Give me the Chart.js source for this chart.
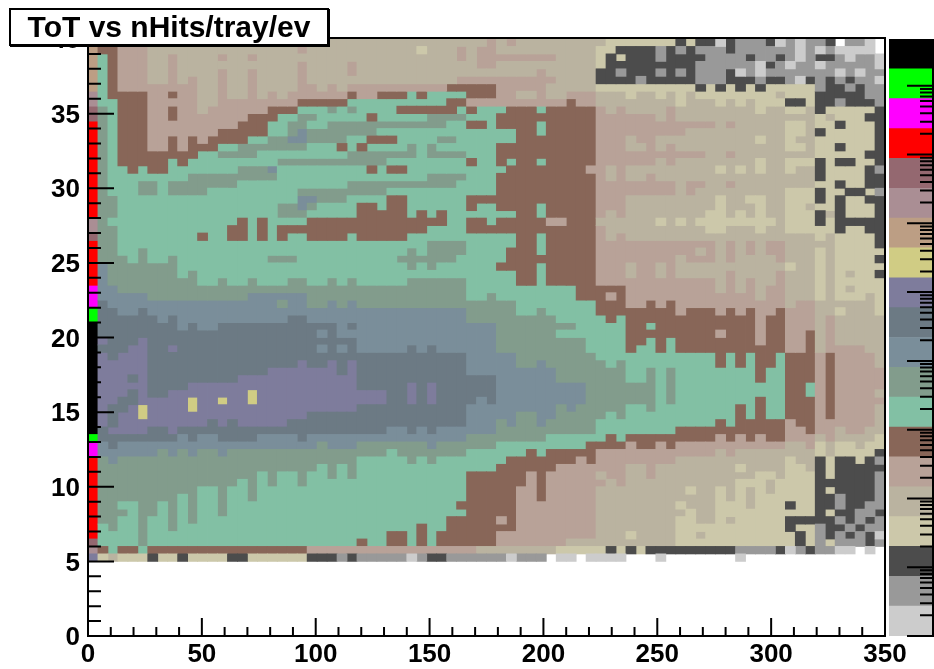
<!DOCTYPE html>
<html>
<head>
<meta charset="utf-8">
<title>ToT vs nHits/tray/ev</title>
<script src="https://cdn.jsdelivr.net/npm/chart.js@4"></script>
<style>
  html, body { margin: 0; padding: 0; background: #fff; overflow: hidden; }
  #wrap { position: relative; width: 934px; height: 669px; }
  #heat { position: absolute; left: 0; top: 0; }
  #pal { position: absolute; left: 880px; top: 0; }
  #title {
    position: absolute; left: 9px; top: 8px; width: 316px; height: 34px; line-height: 34px;
    border: 2px solid #000; box-shadow: 1px 1px 0 #000; background: #fff; text-align: center;
    font: bold 30px "Liberation Sans", Arial, sans-serif;
  }
</style>
</head>
<body>
<div id="wrap">
  <canvas id="heat" width="934" height="669"></canvas>
  <canvas id="pal" width="54" height="669"></canvas>
  <div id="title">ToT vs nHits/tray/ev</div>
</div>
<script>
// palette levels, bottom to top: a is the lowest, t the highest
const levelNames = 'abcdefghijklmnopqrst'.split('');
const levelColors = ['#cccccc', '#999999', '#4c4c4c', '#ccc8aa', '#bab3a0', '#b8a298', '#886658', '#82c0a4', '#829c8c', '#7a8e9a',
                     '#6c7a84', '#7e7c9c', '#d0cc84', '#bc9e84', '#aa8e94', '#946870', '#ff0000', '#ff00ff', '#00ff00', '#000000'];

const xTicks = [0, 50, 100, 150, 200, 250, 300, 350];
const yTicks = [0, 5, 10, 15, 20, 25, 30, 35, 40];
const binW = 4.375;
const binH = 0.5;
const firstRow = 79;   // y bin of the first string below

// run length level per cell, top row first; parts are columns 0-25, 26-50, 51-79
const heatRows = [
  'n g2 f3 e20|e14 f e f e8|e d7 c d c2 a c b3 c a b a b2 c . b2 a .',
  'n g2 f3 e15 f e4|e7 d e3 f e f2 e10|d2 c4 b c b c b3 c b6 a b a b a4 .',
  'n h g f3 e2 f e4 f e2 f e9|e11 f e f8 e4|d c d c3 b c4 b4 c b2 c b a b c2 b a b2 a',
  'n h g f3 e2 f e12 f e4|f e12 f2 e10|d c9 b6 a c b a b2 a b5 a',
  'n h g f3 e2 f e4 f e2 f e4 f e4|f e18 f e5|c2 b c3 b c b c b3 c a b a b7 a b a b2',
  'n h g f3 e2 f e f e2 f e2 f e4 f e4|e11 f10 e4|c4 b c5 b3 c3 b c2 b a c b c b c b2 a',
  'n h g f8 e2 f e2 f e4 f2 e f e|f10 g5 f5 e5|d10 c d c d c d c d5 b c2 b c b2',
  'o h g4 f2 g f2 e2 f e2 f e f e f6|g f2 g3 h g h4 g3 f2 e2 f e2 f3|e3 d e2 d e d e d8 e d3 c5 b2',
  'o h2 g3 f5 e2 f8 g5|h10 g2 f10 g f2|e8 d e3 d e d e d3 c2 d c2 b c3 b',
  'p i h g3 f2 g f2 e f6 g3 h3 i h|i h4 g6 h g h3 g3 h g5|f e f e4 f e8 d e2 d2 e c d5 c',
  'p i h g3 f2 g f7 g3 h2 i2 h3|h2 g h5 i4 h3 g10|f6 e f e14 d e d3 c2',
  'q i h g3 f9 g3 h2 i2 h2 i2|i10 h2 g2 h g4 h g5|f12 e f e5 d2 e d2 c d3 c',
  'q i h g3 f7 g5 h2 i j i4|i3 h14 g2 h g5|f9 e10 d2 e c d5 c',
  'q i h g3 f2 g f g f g4 h2 i2 j2 i4|h2 g3 h4 i2 h6 g8|f3 e f2 e10 d e2 d e2 d6 c',
  'q i h g3 f2 g f g3 h2 i7 h3 g|h g h4 i h i h6 g10|f3 e2 f e f e11 d2 e d2 c d3 c',
  'q i h g8 h2 i4 h9|i7 h i4 h3 g10|f11 e2 f e8 d5 c2',
  'q i h g5 h g h9 i7|i4 h8 g h2 g h g2 h g5|f6 e f e8 d e2 d3 c d c2 d2 c',
  'q i h2 g h g2 h7 i3 j h7|h2 g h g2 h10 g8 f|f e f e9 d e d e d e2 d e2 c d4 c b',
  'q i h8 i9 h7|h8 i4 h3 g10|f e f e2 f e16 c d4 c2',
  'q i h3 i2 h i7 h11|i11 h4 g10|f8 e f2 e2 f e8 d2 c d2 c2',
  'q i h3 i2 h i4 h9 i5|i4 h11 g10|f8 e f e9 d3 c d2 c2 d b',
  'q i2 h18 j2 i3|h4 g2 h6 g13|f3 e9 d e2 d2 e2 d3 c d c d2 c2',
  'q i2 h16 i2 j i h3|h g2 h g2 h6 g h2 g4 h g5|f3 e9 d e3 d e2 d2 e d2 c d3 c',
  'q i2 h16 i3 h4|h g5 h g h g h7 g2 h g5|f e f e8 d2 e d e d e2 d3 c e c d3 c',
  'o i h13 g h g h4 g4|g10 h2 g2 h g5 f2 g3|e6 d e d e d8 e d3 c d c5',
  'o i2 h11 g2 h g h g7|g8 h4 g13|f e10 d2 e3 d e2 d5 c d2 c2',
  'p i2 h8 g h2 g2 h g h g h2 g4|h g5 h11 g2 h g5|f e f e19 d e d4 c',
  'q i2 h23|h8 i4 h5 g2 h g5|f12 e f e f e f2 e5 d4 c',
  'q i2 h2 i h20|h6 i h i4 h4 g3 h g5|f10 e f e f e f e f2 e3 d e d5',
  'q i3 h i h2 i h9 i3 h5|h5 i6 h5 g9|f8 e f3 e f e4 f e3 d e d4 c',
  'q j i7 h17|h6 i h i h6 g4 h g5|f3 e f2 e f e11 d e2 d e d5',
  'q j i7 h i h15|h17 g2 h g5|f3 e f2 e f e5 f e4 f e3 d e d e d2 c',
  'q j i9 h2 i h2 i h3 i2 h2 i h|i h5 i6 h5 g2 h g5|f12 e f e f e2 f e3 d e d5',
  'r j2 i23|i12 h11 g2|g3 f9 e f e f e f2 e3 d e d e d3',
  'r j5 i10 j6 i4|i12 h2 i h8 g2|g f g f13 e f2 e3 d e d3 e d',
  'r k j17 i j2 i2 j i|j i16 h8|g3 f2 g f g f11 e f2 e6 d',
  's k2 j2 k j20|j12 i5 h2 i h5|g8 f g3 f g f g f2 g f3 e2 d e3 d',
  's k6 j k j11 k2 j4|j12 i9 h4|h g h g13 f g2 f3 e f e5',
  't k8 j k j2 k12 j|k j14 i8 h2|h3 g2 h g10 f g2 f3 e f e5',
  't k22 j k j|j15 i6 h4|h3 g9 f g3 f g2 f2 g e f e5',
  't l k3 l k20|k j14 i9 h|h3 g2 h g h g8 f g2 f2 g e f e5',
  't k3 l2 k2 l k14 j k j|k j5 k j k j6 i9 h|h3 g h2 g h g11 f2 g e f4 e2',
  't l k l3 k20|k12 j5 i8|h12 g h g h g2 h g3 f g f4 e',
  't l5 k15 l k2 l k|l k11 j5 i2 j i5|i h i h9 g h g h g2 h g3 f g f4 e',
  't l5 k12 l7 k|l k11 j9 i4|i3 h2 i h i h8 g h2 g3 f g f5',
  't l3 k l k9 l11|l k14 j6 i4|i3 h2 i h i h8 g h2 g3 f g f5',
  't l5 k4 l16|l k5 l k l k6 j9 i|i6 h i h11 g2 h f g f5',
  't l3 k l k2 l8 m l9|l4 k2 l k l k6 j9 i|i6 h i h11 g2 h f g f4 e',
  't l2 k2 l5 m l2 m l2 m l9|l4 k2 l k l k4 j k j9 i|i6 h i h8 g h2 g3 f g f5',
  't l k2 l m l4 m l15|l k11 j9 i j i2|i3 h2 i h8 g h g h2 g3 f g f4 e',
  't l k l2 m l16 k4|k12 j5 i2 j2 i4|i h i h11 g h g h2 g3 f g f4 e',
  't l k l9 k l k l5 k6|k12 j3 i j i2 j i5|h12 g h g5 f g2 f6 e',
  't k l4 k2 l k17|k4 j2 k j k j6 i10|h8 g11 f2 g f2 e f2 e2',
  's k8 j k j2 k4 j4 k j4|j12 i8 h5|h g h g9 f g f g f g2 f3 e f e4 d',
  'r j k j20 i j2|j i7 j i6 h9 g|g3 f g2 f g f11 e2 f d e d2 e d2',
  'r j6 i j i j i2 j i12|i4 h i7 h6 g h g5|f12 e f e8 d e d4 c',
  'q i j i23|i h5 i h i h7 g7 f g|f8 e11 d e2 c d c2 d c b',
  'q i22 h i h|i h14 g6 f4|f3 e2 f e8 d e4 d2 e c d c5',
  'q i16 h i h2 i h2 i h|i h11 g6 f g f5|e f2 e2 f e10 d2 e d3 c d c4 b',
  'q i14 h i h i h2 i h4|h12 g6 f g f5|f e f e11 d3 e d4 c6 b',
  'q i10 h2 i h2 i h9|h12 g5 f2 g f5|e9 d e2 d e d e d e d4 c d c4 b',
  'q i8 h i h2 i h2 i h9|h12 g5 f2 g f5|e12 d e d e d6 c2 b c3 b',
  'q i2 h2 i2 h i h i h2 i h12|h11 g6 f8|e8 d e3 d3 e d3 c d2 c2 b c2 b2',
  'q i3 h i2 h i h i h2 i h12|h12 g5 f8|e9 d e2 d10 c d c2 b2 c',
  'q i2 h2 i h2 i h i h15|h10 g5 f g f8|e8 d2 e2 d e d5 c5 b c b c b',
  'q h i h2 i h2 i h17|h7 g h2 g7 f8|e8 d11 c d2 b c2 b c b2',
  'q h4 i h20|h4 g2 h g h g6 f10|e3 d e4 d2 e d9 c d b c b c b c a',
  'p h4 i h20|h g h2 g2 h g h g6 f7 e3|e8 d12 c d b d b3 c b',
  'o g h g2 h g16 f4|f13 e8 d4|d c d c d c9 b4 c a b c b2 a2 . a .',
  'l d e d3 c d2 c d4 c2 d6 c3 b|c b5 a b c2 b6 a b3 . a2 . a|a3 .3 a .7 a .14'
];

// colour bar scale: decades on the log axis and the top of the bar
const zDecades = [0, 1, 2, 3, 4, 5, 6, 7, 8];
const zMinor = [2, 3, 4, 5, 6, 7, 8, 9];
const zTopLog = 8.68;

const partWidths = [26, 25, 29];

function decodeRow(row) {
  const cells = [];
  row.split('|').forEach((part, p) => {
    const out = [];
    part.trim().split(/\s+/).forEach(tok => {
      const n = tok.length > 1 ? parseInt(tok.slice(1)) : 1;
      for (let i = 0; i < n; i++) out.push(tok[0]);
    });
    for (let c = 0; c < partWidths[p]; c++) {
      cells.push(c < out.length ? out[c] : out[out.length - 1]);
    }
  });
  return cells;
}

const grid = heatRows.map(decodeRow);

// one bar dataset per level; neighbouring cells in a column merge into one bar
const heatSets = levelNames.map((name, i) => ({
  label: name,
  data: [],
  backgroundColor: levelColors[i],
  grouped: false,
  barPercentage: 1,
  categoryPercentage: 1,
  borderWidth: 0,
  inflateAmount: 0.4
}));

for (let col = 0; col < 80; col++) {
  let r = 0;
  while (r < grid.length) {
    const name = grid[r][col];
    let end = r;
    while (end + 1 < grid.length && grid[end + 1][col] === name) end++;
    const lvl = levelNames.indexOf(name);
    if (lvl >= 0) {
      const top = (firstRow - r + 1) * binH;
      const bottom = (firstRow - end) * binH;
      heatSets[lvl].data.push({ x: (col + 0.5) * binW, y: [bottom, top] });
    }
    r = end + 1;
  }
}

// the frame and inward ROOT style ticks
const frameTicks = {
  id: 'frameTicks',
  afterDatasetsDraw(chart) {
    const { ctx, chartArea: a, scales: { x, y } } = chart;
    ctx.save();
    ctx.strokeStyle = '#000';
    ctx.lineWidth = 2;
    ctx.strokeRect(a.left, a.top - 1, a.right - a.left, a.bottom - a.top + 1);
    ctx.beginPath();
    for (let v = 0; v <= 350; v += 10) {
      const px = x.getPixelForValue(v);
      ctx.moveTo(px, a.bottom);
      ctx.lineTo(px, a.bottom - (v % 50 === 0 ? 18 : 9));
    }
    for (let v = 0; v <= 40; v += 1) {
      const py = y.getPixelForValue(v);
      ctx.moveTo(a.left, py);
      ctx.lineTo(a.left + (v % 5 === 0 ? 26 : 13), py);
    }
    ctx.stroke();
    ctx.restore();
  }
};

new Chart(document.getElementById('heat').getContext('2d'), {
  type: 'bar',
  data: { datasets: heatSets },
  plugins: [frameTicks],
  options: {
    responsive: false,
    animation: false,
    layout: { padding: { top: 39, right: 49, left: 0, bottom: 0 } },
    plugins: { legend: { display: false }, tooltip: { enabled: false }, title: { display: false } },
    scales: {
      x: {
        type: 'linear',
        offset: false,
        min: 0,
        max: 350,
        afterBuildTicks: s => { s.ticks = xTicks.map(v => ({ value: v })); },
        afterFit: s => { s.height = 33; },
        grid: { display: false, drawTicks: false },
        border: { display: false },
        ticks: { color: '#000', padding: 3, maxRotation: 0, autoSkip: false, font: { family: 'Liberation Sans', weight: 'bold', size: 26 } }
      },
      y: {
        type: 'linear',
        min: 0,
        max: 40,
        afterBuildTicks: s => { s.ticks = yTicks.map(v => ({ value: v })); },
        afterFit: s => { s.width = 88; },
        grid: { display: false, drawTicks: false },
        border: { display: false },
        ticks: { color: '#000', padding: 8, labelOffset: 2, autoSkip: false, font: { family: 'Liberation Sans', weight: 'bold', size: 26 } }
      }
    }
  }
});

// colour bar: one floating bar per level on a log axis
const palSets = levelNames.map((name, i) => ({
  label: name,
  data: [[Math.pow(10, zTopLog * i / 20), Math.pow(10, zTopLog * (i + 1) / 20)]],
  backgroundColor: levelColors[i],
  grouped: false,
  barPercentage: 1,
  categoryPercentage: 1,
  borderWidth: 0
}));

const palTicks = {
  id: 'palTicks',
  afterDatasetsDraw(chart) {
    const { ctx, chartArea: a, scales: { y } } = chart;
    ctx.save();
    ctx.strokeStyle = '#000';
    ctx.lineWidth = 2;
    ctx.beginPath();
    ctx.moveTo(a.right + 1, a.top);
    ctx.lineTo(a.right + 1, a.bottom + 1);
    zDecades.forEach(d => {
      const py = y.getPixelForValue(Math.pow(10, d));
      ctx.moveTo(a.right + 1, py);
      ctx.lineTo(a.right - 25, py);
      zMinor.forEach(m => {
        const val = m * Math.pow(10, d);
        if (Math.log10(val) < zTopLog) {
          const pm = y.getPixelForValue(val);
          ctx.moveTo(a.right + 1, pm);
          ctx.lineTo(a.right - 12, pm);
        }
      });
    });
    ctx.stroke();
    ctx.restore();
  }
};

new Chart(document.getElementById('pal').getContext('2d'), {
  type: 'bar',
  data: { labels: [''], datasets: palSets },
  plugins: [palTicks],
  options: {
    responsive: false,
    animation: false,
    layout: { padding: { top: 39, bottom: 33, left: 9, right: 2 } },
    plugins: { legend: { display: false }, tooltip: { enabled: false } },
    scales: {
      x: { display: false },
      y: { display: false, type: 'logarithmic', min: 1, max: Math.pow(10, zTopLog) }
    }
  }
});
</script>
</body>
</html>
